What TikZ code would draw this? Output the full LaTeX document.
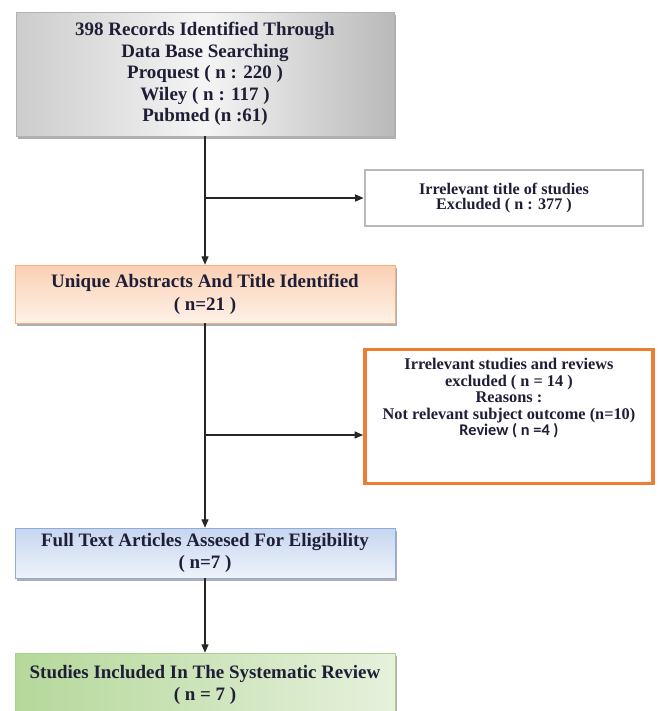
\documentclass[tikz,border=0pt]{standalone}
\usepackage{fontspec}
\setmainfont{Liberation Serif}
\newfontfamily\revfont{Carlito}
\usetikzlibrary{arrows.meta,positioning,shadows}
\definecolor{txtNavy}{HTML}{1E1E36}
\definecolor{exclOrange}{HTML}{ED7D31}
\definecolor{uniqEdge}{HTML}{F4B183}
\definecolor{uniqTop}{HTML}{FAD0B3}
\definecolor{uniqBot}{HTML}{FEF1E8}
\definecolor{fullEdge}{HTML}{8FAADC}
\definecolor{fullTop}{HTML}{C6D6EF}
\definecolor{fullBot}{HTML}{EEF3FB}
\definecolor{inclEdge}{HTML}{A9D18E}
\definecolor{inclLeft}{HTML}{B5D89A}
\definecolor{inclRight}{HTML}{E6F1DC}

\begin{document}
\begin{tikzpicture}[font=\bfseries, text=txtNavy,
  stage/.style={draw, align=center, minimum width=9.5cm,
    drop shadow={shadow xshift=1.6pt, shadow yshift=-2pt, fill=black!45, opacity=0.7},
    font=\fontsize{13.5}{16.2}\selectfont\bfseries},
  exclbox/.style={draw, fill=white, align=center, font=\fontsize{11.5}{11.2}\selectfont\bfseries},
  flow/.style={-{Triangle[length=6pt,width=5pt]}, line width=0.8pt, black!85}]
\useasboundingbox (0,0) rectangle (16.475,-17.775);
% main column
\node[stage, draw=gray!60, minimum width=9.45cm, minimum height=3.1cm,
  font=\fontsize{13.5}{15.2}\selectfont\bfseries,
  left color=gray!40, right color=gray!55, middle color=gray!8] (rec) at (5.125,-1.85)
  {398 Records Identified Through\\ Data Base Searching\\ Proquest ( n : 220 )\\
   Wiley ( n : 117 )\\ Pubmed (n :61)};
\node[stage, draw=uniqEdge, minimum height=1.45cm, top color=uniqTop, bottom color=uniqBot] (uniq) at (5.125,-7.35)
  {Unique Abstracts And Title Identified\\ ( n=21 )};
\node[stage, draw=fullEdge, minimum height=1.25cm, top color=fullTop, bottom color=fullBot] (full) at (5.125,-13.825)
  {Full Text Articles Assesed For Eligibility\\ ( n=7 )};
\node[stage, draw=inclEdge, minimum height=1.6cm, left color=inclLeft, right color=inclRight] (incl) at (5.125,-17.125)
  {Studies Included In The Systematic Review\\ ( n = 7 )};
% exclusion boxes
\node[exclbox, draw=gray!55, line width=2pt, minimum width=6.95cm, minimum height=1.4cm] (excl1) at (12.6,-4.95)
  {Irrelevant title of studies\\ Excluded ( n : 377 )};
\node[exclbox, draw=exclOrange, line width=2.6pt, minimum width=7.2cm, minimum height=3.35cm,
  font=\fontsize{11.6}{11.8}\selectfont\bfseries] (excl2) at (12.725,-10.41)
  {Irrelevant studies and reviews\\ excluded ( n = 14 )\\ Reasons :\\
   Not relevant subject outcome (n=10)\\ {\revfont Review ( n =4 )}\\[0.55cm]};
% connectors
\coordinate (j1) at (5.125,-4.95);
\coordinate (j2) at (5.125,-10.875);
\draw[flow] (rec) -- (uniq);
\draw[flow] (uniq) -- (full);
\draw[flow] (full) -- (incl);
\draw[flow] (j1) -- (excl1);
\draw[flow] (j2) -- (j2 -| excl2.west);
\end{tikzpicture}
\end{document}
